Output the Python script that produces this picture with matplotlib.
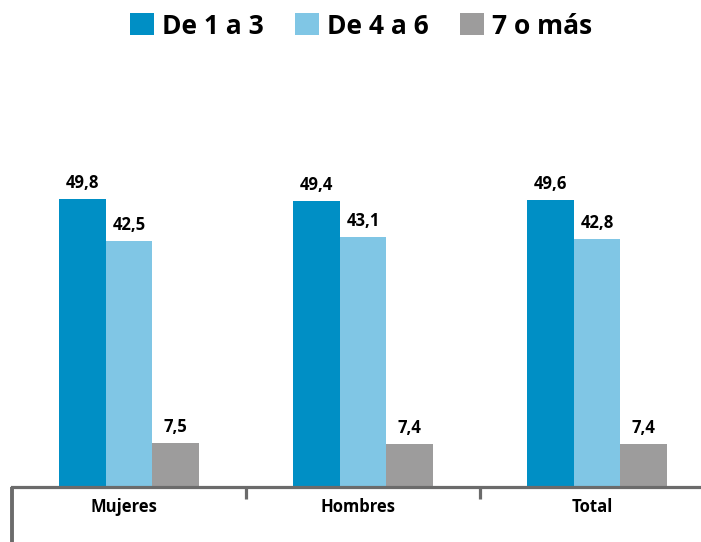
import numpy as np
import matplotlib
matplotlib.use('Agg')
import matplotlib.pyplot as plt
from matplotlib.patches import Patch

plt.rcParams['font.family'] = ['Open Sans', 'DejaVu Sans']
plt.rcParams['font.weight'] = 'bold'

# data
categorias = ['Mujeres', 'Hombres', 'Total']
series = ['De 1 a 3', 'De 4 a 6', '7 o más']
de_1_a_3 = [49.8, 49.4, 49.6]
de_4_a_6 = [42.5, 43.1, 42.8]
siete_o_mas = [7.5, 7.4, 7.4]

colores = ['#008fc5', '#80c6e5', '#9d9c9c']
gris_eje = '#6b6b6b'

W, H = 701, 542
fig = plt.figure(figsize=(W / 100, H / 100), dpi=100)

base_px = 486.5
top_px = 100
px_per_unit = 5.78
ax = fig.add_axes([12 / W, (H - base_px) / H, (W - 12) / W, (base_px - top_px) / H])

x = np.arange(len(categorias))
ancho = 0.2
valores = [de_1_a_3, de_4_a_6, siete_o_mas]
for i, (vals, col) in enumerate(zip(valores, colores)):
    pos = x + (i - 1) * ancho
    barras = ax.bar(pos, vals, ancho, color=col, linewidth=0)
    for b, v in zip(barras, vals):
        ax.annotate(f'{v:.1f}'.replace('.', ','),
                    (b.get_x() + b.get_width() / 2, b.get_height()),
                    xytext=(0, 5), textcoords='offset points',
                    ha='center', va='bottom', fontsize=12, fontweight='bold')

ax.set_xlim(-0.5, -0.5 + (W - 12) / 234)
ymax = (base_px - top_px) / px_per_unit
ax.set_ylim(0, ymax)

for s in ['top', 'right', 'left']:
    ax.spines[s].set_visible(False)
ax.spines['bottom'].set_color(gris_eje)
ax.spines['bottom'].set_linewidth(2.3)
ax.set_yticks([])

ax.set_xticks([0.5, 1.5])
ax.set_xticklabels(['', ''])
ax.tick_params(axis='x', which='major', length=8.5, width=2.3, color=gris_eje)
ax.set_xticks(x - 0.02, minor=True)
ax.set_xticklabels(categorias, minor=True, fontsize=12, fontweight='bold')
ax.tick_params(axis='x', which='minor', length=0, pad=8)

# linea vertical izquierda bajo el eje
ax.plot([-0.5, -0.5], [0, -(H - base_px) / px_per_unit], color=gris_eje,
        linewidth=2.8, clip_on=False, solid_capstyle='butt')

handles = [Patch(facecolor=c, edgecolor='none') for c in colores]
fig.legend(handles, series, loc='center', bbox_to_anchor=(361 / W, 1 - 26 / H), ncol=3,
           frameon=False, handlelength=0.9, handleheight=0.9,
           handletextpad=0.3, columnspacing=1.2, prop={'weight': 'bold', 'size': 19})

fig.savefig('out.png', dpi=100)
